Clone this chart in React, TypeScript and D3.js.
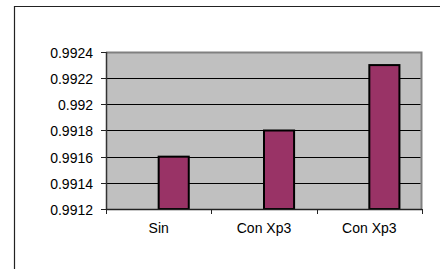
import React from 'react';
import * as d3 from 'd3';

const categories = ['Sin', 'Con Xp3', 'Con Xp3 '];
const values = [0.9916, 0.9918, 0.9923];
const yTicks = [0.9912, 0.9914, 0.9916, 0.9918, 0.992, 0.9922, 0.9924];

const W = 440;
const H = 269;
const margin = { top: 52, right: 18, bottom: 60, left: 106 };

const App = () => {
  const plotW = W - margin.left - margin.right;
  const plotH = H - margin.top - margin.bottom;

  const x = d3.scaleBand().domain(categories).range([0, plotW]).padding(0);
  // excel-style: two slots per category, the first series is off-scale so only the 2nd shows
  const sub = d3
    .scaleBand()
    .domain(['s1', 's2'])
    .range([0, x.bandwidth()])
    .paddingInner(0)
    .paddingOuter(0.75);
  const y = d3.scaleLinear().domain([0.9912, 0.9924]).range([plotH, 0]);

  const fmt = (v) => String(+v.toFixed(4));
  const bounds = categories.map((c) => x(c)).concat([plotW]);

  return (
    <svg
      width={W}
      height={H}
      style={{ position: 'absolute', left: 0, top: 0, background: '#fff' }}
      fontFamily="Liberation Sans, Arial, sans-serif"
    >
      {/* chart area frame */}
      <path d={`M14.5,${H} V6.5 H${W}`} fill="none" stroke="#222" strokeWidth={1.2} />

      <g transform={`translate(${margin.left},${margin.top})`}>
        <rect x={0} y={0} width={plotW} height={plotH} fill="#c0c0c0" />
        <path d={`M0,0.5 H${plotW - 0.5} V${plotH}`} fill="none" stroke="#808080" strokeWidth={2} />

        {yTicks.slice(1, -1).map((t) => (
          <line key={t} x1={0} x2={plotW - 1.5} y1={Math.round(y(t)) + 0.5} y2={Math.round(y(t)) + 0.5} stroke="#000" />
        ))}

        {categories.map((c, i) => (
          <rect
            key={c}
            x={x(c) + sub('s2')}
            y={y(values[i])}
            width={sub.bandwidth()}
            height={plotH - y(values[i])}
            fill="#993366"
            stroke="#000"
            strokeWidth={2}
          />
        ))}

        {/* y axis */}
        <line x1={0.5} x2={0.5} y1={0} y2={plotH + 1} stroke="#333" strokeWidth={1.5} />
        {yTicks.map((t) => (
          <g key={t} transform={`translate(0,${Math.round(y(t)) + 0.5})`}>
            <line x1={-5} x2={0} stroke="#222" />
            <text x={-13} dy="0.36em" textAnchor="end" fontSize={14} fill="#000">
              {fmt(t)}
            </text>
          </g>
        ))}

        {/* x axis */}
        <line x1={0} x2={plotW} y1={plotH + 0.5} y2={plotH + 0.5} stroke="#222" strokeWidth={1.5} />
        {bounds.map((b, i) => (
          <line key={i} x1={Math.round(b) + 0.5} x2={Math.round(b) + 0.5} y1={plotH} y2={plotH + 5} stroke="#222" />
        ))}
        {categories.map((c) => (
          <text
            key={c}
            x={x(c) + x.bandwidth() / 2}
            y={plotH + 19}
            dy="0.36em"
            textAnchor="middle"
            fontSize={14}
            fill="#000"
          >
            {c.trim()}
          </text>
        ))}
      </g>
    </svg>
  );
};

export default App;
